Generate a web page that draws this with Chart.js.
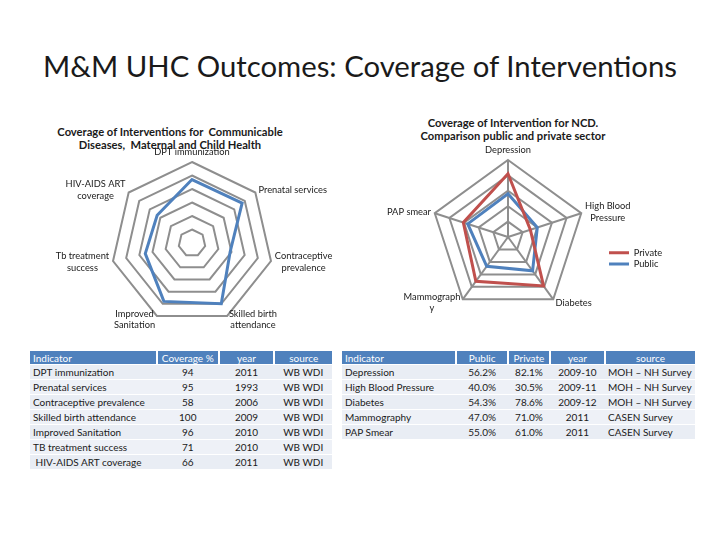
<!DOCTYPE html>
<html><head><meta charset="utf-8">
<script src="https://cdn.jsdelivr.net/npm/chart.js@4.4.0/dist/chart.umd.min.js"></script>
<style>
body{margin:0;width:720px;height:540px;background:#fff;position:relative;overflow:hidden;font-family:Lato,'Liberation Sans',sans-serif;color:#1a1a1a}
#title{position:absolute;left:0;width:720px;top:48px;text-align:center;font-size:29.3px;line-height:36px;white-space:nowrap}
.ctitle{position:absolute;text-align:center;font-weight:bold;font-size:11.2px;line-height:13.3px;white-space:nowrap}
canvas{position:absolute}
table{position:absolute;border-collapse:collapse;font-size:10px;color:#1a1a1a}
td,th{padding:0 3px;white-space:nowrap;font-weight:normal}
th{background:#4F81BD;color:#fff;height:13px;text-align:center;border-left:2px solid #fff;border-bottom:1px solid #fff}
th:first-child{text-align:left;border-left:none}
td{height:14px;text-align:center;border-bottom:1px solid #fff}
td:first-child{text-align:left}
tr.odd td{background:#E9EDF4}
tr.even td{background:#EEF1F7}
td.src2{text-align:left}
</style></head>
<body>
<div id="title">M&amp;M UHC Outcomes: Coverage of Interventions</div>
<div class="ctitle" style="left:20px;width:300px;top:125px">Coverage of Interventions for&nbsp; Communicable<br>Diseases,&nbsp; Maternal and Child Health</div>
<div class="ctitle" style="left:363px;width:300px;top:116px">Coverage of Intervention for NCD.<br>Comparison public and private sector</div>
<canvas id="cd" width="300" height="200" style="left:40px;top:140px"></canvas>
<canvas id="ncd" width="340" height="186" style="left:338px;top:140px"></canvas>
<table id="t1" style="left:30px;top:351px;width:302px"></table>
<table id="t2" style="left:342px;top:351px;width:353px"></table>
<script>
// ---- Data: communicable diseases, maternal & child health ----
const cdLabels = ['DPT immunization', 'Prenatal services', ['Contraceptive', 'prevalence'], ['Skilled birth', 'attendance'], ['Improved', 'Sanitation'], ['Tb treatment', 'success'], ['HIV-AIDS ART', 'coverage']];
const cdIndicators = ['DPT immunization', 'Prenatal services', 'Contraceptive prevalence', 'Skilled birth attendance', 'Improved Sanitation', 'TB treatment success', '\u00a0HIV-AIDS ART coverage'];
const cdCoverage = [94, 95, 58, 100, 96, 71, 66];
const cdYears = ['2011', '1993', '2006', '2009', '2010', '2010', '2011'];
const cdSources = ['WB WDI', 'WB WDI', 'WB WDI', 'WB WDI', 'WB WDI', 'WB WDI', 'WB WDI'];
const cdTicks = [0, 20, 40, 60, 80, 100, 120];

// ---- Data: NCD public vs private ----
const ncdLabels = ['Depression', ['High Blood', 'Pressure'], 'Diabetes', ['Mammograph', 'y'], 'PAP smear'];
const ncdIndicators = ['Depression', 'High Blood Pressure', 'Diabetes', 'Mammography', 'PAP Smear'];
const ncdPublic = [56.2, 40.0, 54.3, 47.0, 55.0];
const ncdPrivate = [82.1, 30.5, 78.6, 71.0, 61.0];
const ncdYears = ['2009-10', '2009-11', '2009-12', '2011', '2011'];
const ncdSources = ['MOH \u2013 NH Survey', 'MOH \u2013 NH Survey', 'MOH \u2013 NH Survey', 'CASEN Survey', 'CASEN Survey'];
const ncdTicks = [0, 20, 40, 60, 80, 100];

const BLUE = '#4F81BD', RED = '#C0504D', GRID = '#8E8E8E', TXT = '#1a1a1a';
const FONT = {family: 'Lato', size: 9.3};

// Places the (chartArea) legend at a chosen spot inside the canvas
const legendPlacer = {
  id: 'legendPlacer',
  afterLayout(chart, args, opts) {
    const lg = chart.legend;
    if (!lg || opts.x === undefined) return;
    const w = lg.width;
    lg.left = opts.x; lg.top = opts.y; lg.right = opts.x + w; lg.bottom = opts.y + 60;
  }
};

// Axis (point) labels anchored on the radial scale, block-centred like the original
const spokeLabels = {
  id: 'spokeLabels',
  afterDraw(chart, args, opts) {
    const s = chart.scales.r, ctx = chart.ctx;
    ctx.save();
    ctx.font = opts.size + 'px ' + opts.family;
    ctx.fillStyle = opts.color;
    ctx.textBaseline = 'middle';
    ctx.textAlign = 'center';
    const lh = opts.size * 1.25;
    chart.data.labels.forEach((lab, i) => {
      const lines = Array.isArray(lab) ? lab : [lab];
      const p = s.getPointPosition(i, s.drawingArea + opts.padding);
      const ang = s.getIndexAngle(i);
      const sx = Math.sin(ang), cyv = -Math.cos(ang);
      const bw = Math.max(...lines.map(l => ctx.measureText(l).width));
      const bh = lh * lines.length;
      let left, top;
      if (Math.abs(sx) < 0.05) {
        left = p.x - bw / 2;
        top = cyv < 0 ? p.y - bh : p.y;
      } else {
        left = sx > 0 ? p.x : p.x - bw;
        top = p.y - bh / 2;
      }
      lines.forEach((l, k) => ctx.fillText(l, left + bw / 2, top + lh * (k + 0.5)));
    });
    ctx.restore();
  }
};

function radarScale(ticks, angle) {
  return {
    min: ticks[0], max: ticks[ticks.length - 1],
    ticks: {display: false, stepSize: ticks[1] - ticks[0]},
    grid: {color: GRID, lineWidth: 2},
    angleLines: {display: angle, color: GRID, lineWidth: 2},
    pointLabels: {display: false}
  };
}

new Chart(document.getElementById('cd'), {
  type: 'radar',
  data: {labels: cdLabels, datasets: [{label: 'Coverage %', data: cdCoverage, borderColor: BLUE, borderWidth: 3, fill: false, pointRadius: 0, backgroundColor: 'transparent'}]},
  options: {
    responsive: false, animation: false,
    layout: {padding: {left: 71, right: 67, top: 22, bottom: 16}},
    plugins: {legend: {display: false}, tooltip: {enabled: false},
      spokeLabels: {family: 'Lato', size: 9.3, color: TXT, padding: 4}},
    scales: {r: radarScale(cdTicks, false)}
  },
  plugins: [spokeLabels]
});

new Chart(document.getElementById('ncd'), {
  type: 'radar',
  data: {labels: ncdLabels, datasets: [
    {label: 'Private', data: ncdPrivate, borderColor: RED, backgroundColor: RED, borderWidth: 3, fill: false, pointRadius: 0, pointStyle: 'line'},
    {label: 'Public', data: ncdPublic, borderColor: BLUE, backgroundColor: BLUE, borderWidth: 3, fill: false, pointRadius: 0, pointStyle: 'line'}
  ]},
  options: {
    responsive: false, animation: false,
    layout: {padding: {left: 93, right: 93, top: 20, bottom: 12}},
    plugins: {
      tooltip: {enabled: false},
      legend: {position: 'chartArea', align: 'start',
        labels: {usePointStyle: true, pointStyle: 'line', pointStyleWidth: 20, padding: 2, color: TXT, font: FONT}},
      legendPlacer: {x: 269, y: 106},
      spokeLabels: {family: 'Lato', size: 9.3, color: TXT, padding: 4}
    },
    scales: {r: radarScale(ncdTicks, true)}
  },
  plugins: [legendPlacer, spokeLabels]
});

// ---- Tables ----
function buildTable(id, head, rows, leftCols) {
  const t = document.getElementById(id);
  const tr = document.createElement('tr');
  head.forEach(h => { const th = document.createElement('th'); th.textContent = h; tr.appendChild(th); });
  t.appendChild(tr);
  rows.forEach((r, i) => {
    const row = document.createElement('tr');
    row.className = i % 2 ? 'even' : 'odd';
    r.forEach((c, j) => { const td = document.createElement('td'); td.textContent = c; if (leftCols.includes(j)) td.className = 'src2'; row.appendChild(td); });
    t.appendChild(row);
  });
}
buildTable('t1', ['Indicator', 'Coverage %', 'year', 'source'],
  cdIndicators.map((n, i) => [n, String(cdCoverage[i]), cdYears[i], cdSources[i]]), []);
buildTable('t2', ['Indicator', 'Public', 'Private', 'year', 'source'],
  ncdIndicators.map((n, i) => [n, ncdPublic[i].toFixed(1) + '%', ncdPrivate[i].toFixed(1) + '%', ncdYears[i], ncdSources[i]]), [4]);
const w1 = [127, 60, 57, 58], w2 = [116, 53, 40, 55, 89];
document.querySelectorAll('#t1 th').forEach((th, i) => th.style.width = (w1[i] - 6) + 'px');
document.querySelectorAll('#t2 th').forEach((th, i) => th.style.width = (w2[i] - 6) + 'px');
</script>
</body></html>
